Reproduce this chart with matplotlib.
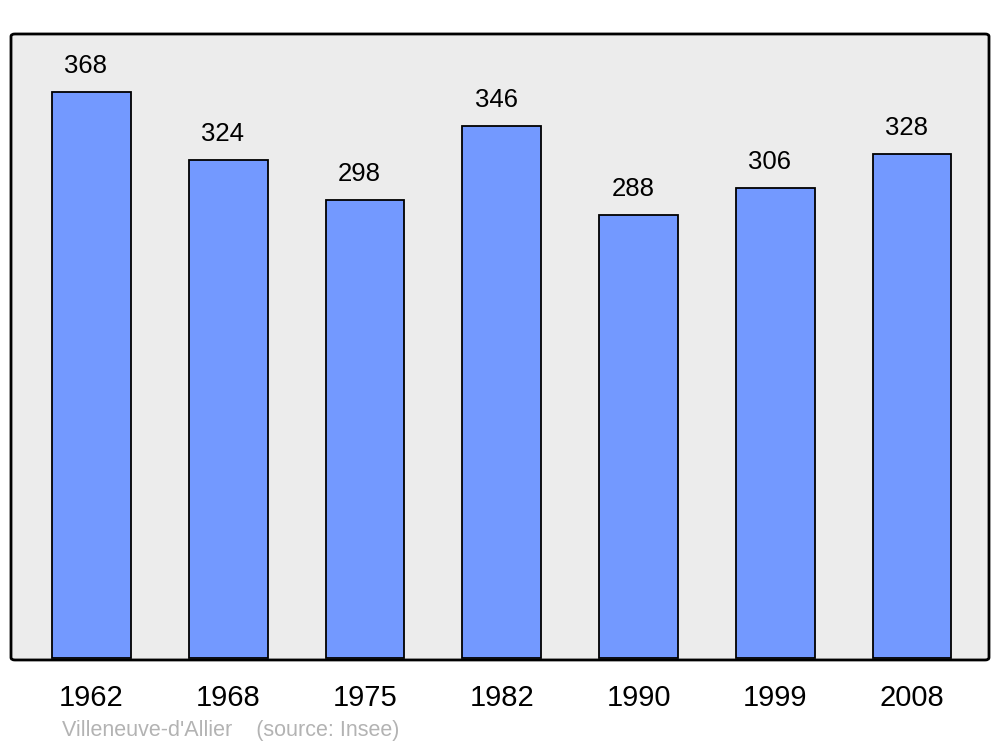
import matplotlib.pyplot as plt
from matplotlib.patches import FancyBboxPatch

# Population data
years = ['1962', '1968', '1975', '1982', '1990', '1999', '2008']
population = [368, 324, 298, 346, 288, 306, 328]

plt.rcParams['font.family'] = ['Liberation Sans', 'DejaVu Sans']

fig = plt.figure(figsize=(10, 7.47), dpi=100)
ax = fig.add_axes([0.011, 0.1165, 0.978, 0.838])
ax.set_facecolor('none')

# Rounded frame with grey background
frame = FancyBboxPatch((0, 0), 1, 1, boxstyle='round,pad=0,rounding_size=0.004',
                       transform=ax.transAxes, facecolor='#ececec',
                       edgecolor='black', linewidth=2, clip_on=False, zorder=0)
ax.add_patch(frame)

x = range(len(years))
ax.bar(x, population, width=0.575, color='#7399ff', edgecolor='black',
       linewidth=1.3, zorder=2)

for i, v in enumerate(population):
    ax.annotate(str(v), (i, v), xytext=(-4, 10), textcoords='offset points',
                ha='center', va='bottom', fontsize=18.5)

ax.set_xlim(-0.589, 6.563)
ax.set_ylim(-1.3, 405.9)
ax.set_xticks(list(x))
ax.set_xticklabels(years, fontsize=21)
ax.tick_params(axis='x', length=0, pad=17)
ax.set_yticks([])
for s in ax.spines.values():
    s.set_visible(False)

fig.text(0.062, 0.008, "Villeneuve-d'Allier    (source: Insee)", color='#b3b3b3',
         fontsize=15.5, ha='left', va='bottom')

fig.savefig('out.png', dpi=100)
